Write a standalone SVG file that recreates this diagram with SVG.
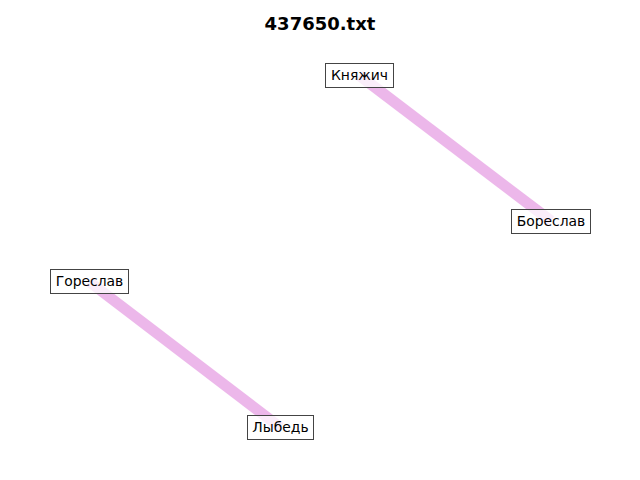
<svg xmlns="http://www.w3.org/2000/svg" width="640" height="480" viewBox="0 0 640 480">
<style>
.edge{stroke:#DA70D6;stroke-opacity:0.5;stroke-width:11;fill:none}
.box{fill:#fff;fill-opacity:0.75;stroke:#444;stroke-width:1}
.lbl{font-family:"DejaVu Sans",sans-serif;font-size:13.9px;fill:#000;text-anchor:middle}
.title{font-family:"DejaVu Sans",sans-serif;font-size:18px;font-weight:bold;fill:#000;text-anchor:middle}
</style>
<rect width="640" height="480" fill="#fff"/>
<text class="title" x="320" y="30">437650.txt</text>
<g id="edges">
<line class="edge" x1="359.5" y1="75.5" x2="551" y2="221"/>
<line class="edge" x1="89" y1="281.5" x2="280.5" y2="427.5"/>
</g>
<g id="n_knyazhich"><rect class="box" x="325.5" y="63.5" width="68" height="24"/><text class="lbl" x="359.5" y="80">Княжич</text></g>
<g id="n_boreslav"><rect class="box" x="511.5" y="209.5" width="79" height="24"/><text class="lbl" x="551" y="226">Бореслав</text></g>
<g id="n_goreslav"><rect class="box" x="50.5" y="269.5" width="78" height="24"/><text class="lbl" x="89.5" y="286">Гореслав</text></g>
<g id="n_lybed"><rect class="box" x="247.5" y="415.5" width="66" height="24"/><text class="lbl" x="280.5" y="432">Лыбедь</text></g>
</svg>
